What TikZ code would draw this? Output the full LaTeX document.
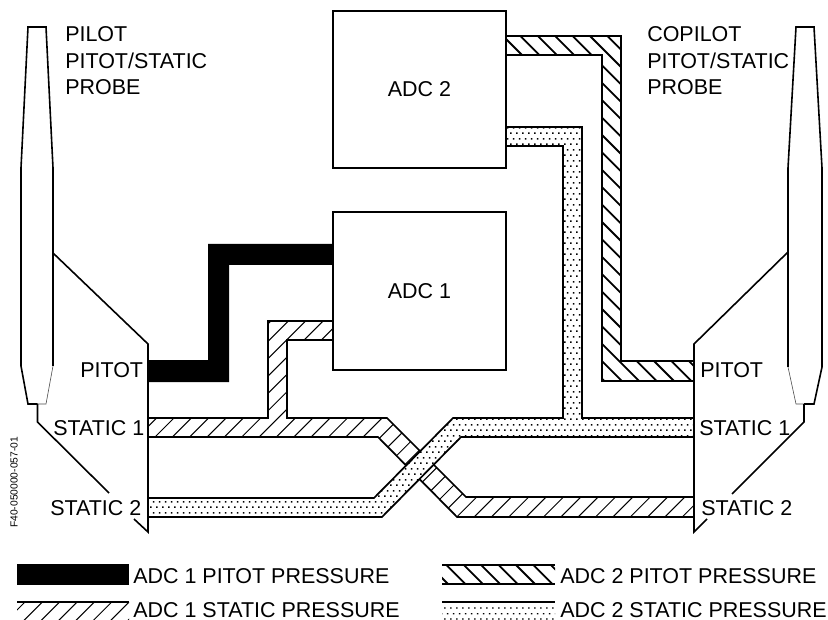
\documentclass[tikz,border=0pt]{standalone}
\usepackage{fontspec}
\usetikzlibrary{patterns}
\setmainfont{Liberation Sans}
\newcommand{\lbl}{\fontsize{16.1}{19.9}\selectfont}
\newcommand{\hatchfwd}[3]{% x+y=c
  \foreach \c in {#1,#2,...,#3}{\draw[fwdline] (\c-640,640) -- (\c,0);}}
\newcommand{\hatchbck}[3]{% x-y=c
  \foreach \c in {#1,#2,...,#3}{\draw[bckline] (\c,0) -- (\c+640,640);}}
\pgfdeclarepatternformonly{pipedots}{\pgfqpoint{0pt}{0pt}}{\pgfqpoint{4.3125pt}{8.4pt}}{\pgfqpoint{4.3125pt}{8.4pt}}{
  \pgfpathrectangle{\pgfqpoint{.9pt}{1pt}}{\pgfqpoint{1.1pt}{1.1pt}}
  \pgfpathrectangle{\pgfqpoint{3.05pt}{5.2pt}}{\pgfqpoint{1.1pt}{1.1pt}}
  \pgfusepath{fill}}
\tikzset{
  x=.75pt,y=-.75pt,
  pipeline/.style={line width=1.3pt,line join=miter,black},
  fwdline/.style={line width=.75pt,black},
  bckline/.style={line width=1.35pt,black},
  thick probe/.style={line width=1.2pt,black},
  mid probe/.style={line width=.9pt,black},
  thin probe/.style={line width=.45pt,black!70},
  boxnode/.style={draw,line width=1.3pt,fill=white,minimum width=129.75pt,inner sep=0pt,font=\lbl},
  txt/.style={inner sep=0pt,font=\lbl,anchor=base west},
  txtblock/.style={inner sep=0pt,font=\lbl,anchor=north west,align=left},
  adc one static/.style={insert path={(148,418)--(268,418)--(268,321)--(333,321)--(333,340)--(287,340)--(287,418)--(387,418)--(466,497)--(694,497)--(694,517)--(457,517)--(378,437)--(148,437)--cycle}},
  adc two pitot/.style={insert path={(506,36)--(621,36)--(621,361)--(694,361)--(694,381)--(602,381)--(602,55)--(506,55)--cycle}},
  adc two static/.style={insert path={(148,498)--(374,498)--(453,418)--(563,418)--(563,146)--(506,146)--(506,127)--(582,127)--(582,418)--(694,418)--(694,437)--(461,437)--(382,517)--(148,517)--cycle}},
}
\begin{document}
\begin{tikzpicture}
\useasboundingbox (0,0) rectangle (828,620);
\fill[white] (0,0) rectangle (828,620);

% ADC 1 static pipe
\begin{scope}
  \path[clip,adc one static];
  \hatchfwd{574.65}{592}{1250}
\end{scope}
\path[draw,pipeline,adc one static];

% ADC 2 pitot pipe
\begin{scope}
  \path[clip,adc two pitot];
  \hatchbck{206}{223.4}{600}
\end{scope}
\path[draw,pipeline,adc two pitot];

% ADC 2 static pipe
\path[fill=white,adc two static];
\path[pattern=pipedots,pattern color=black,adc two static];
\path[draw,pipeline,adc two static];

% ADC 1 pitot pipe
\fill[black] (148,360)--(208,360)--(208,244)--(333,244)--(333,265)--(229,265)--(229,382)--(148,382)--cycle;

% boxes
\node[boxnode,minimum height=117.75pt] (adctwo) at (419.5,89.5) {ADC 2};
\node[boxnode,minimum height=118.5pt] (adcone) at (419.5,291) {ADC 1};

% left probe
\draw[thick probe] (37.5,404)--(28,404)--(21,366)--(21,168)--(28,27)--(46,27)--(53,168);
\draw[mid probe] (53,168)--(53,366);
\draw[thin probe] (53,366)--(46,404)--(37.5,404);
\draw[thick probe] (37.5,404)--(37.5,422)--(109,493);
\draw[thick probe] (134,519)--(148,532)--(148,344)--(53,253);

% right probe
\draw[thick probe] (804,404)--(814,404)--(822,367)--(822,168)--(814,27)--(796,27)--(788,168);
\draw[mid probe] (788,168)--(788,367);
\draw[thin probe] (788,367)--(796,404)--(804,404);
\draw[thick probe] (804,404)--(804,422)--(732,494);
\draw[thick probe] (707,519)--(694,532)--(694,344)--(788,252);

% labels
\node[txtblock] (pilot) at (65,26.5) {PILOT\\PITOT/STATIC\\PROBE};
\node[txtblock] (copilot) at (647,26.5) {COPILOT\\PITOT/STATIC\\PROBE};
\node[txt] (lp) at (80,377) {PITOT};
\node[txt] (ls1) at (53,435) {STATIC 1};
\node[txt] (ls2) at (50,515) {STATIC 2};
\node[txt] (rp) at (700,377) {PITOT};
\node[txt] (rs1) at (699,435) {STATIC 1};
\node[txt] (rs2) at (701,515) {STATIC 2};
\node[inner sep=0pt,anchor=base west,rotate=90,font=\fontsize{7.7}{9}\selectfont] (code) at (17.5,528) {F40-050000-057-01};

% legend
\fill[black] (17,564) rectangle (129,585);
\node[txt] (k1) at (133,583) {ADC 1 PITOT PRESSURE};
\begin{scope}
  \clip (17,602) rectangle (129,620);
  \hatchfwd{627}{644.35}{760}
\end{scope}
\draw[pipeline] (17,602)--(129,602);
\node[txt] (k2) at (133,617) {ADC 1 STATIC PRESSURE};
\begin{scope}
  \clip (442,565) rectangle (555,584);
  \hatchbck{-136}{-118.6}{0}
\end{scope}
\draw[pipeline] (442,565)--(555,565);
\draw[pipeline] (442,584)--(555,584);
\node[txt] (k3) at (560,583) {ADC 2 PITOT PRESSURE};
\fill[pattern=pipedots,pattern color=black] (442,604) rectangle (555,620);
\draw[pipeline] (442,602)--(555,602);
\node[txt] (k4) at (560,617) {ADC 2 STATIC PRESSURE};
\end{tikzpicture}
\end{document}
